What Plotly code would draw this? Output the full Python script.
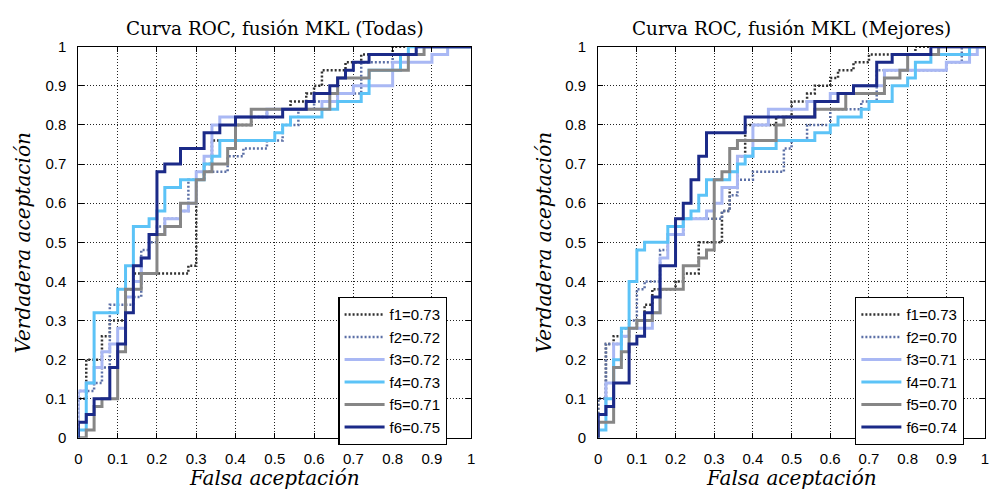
import plotly.graph_objects as go

# ---------------- data (step-curve breakpoints) ----------------
# Left panel: "Todas"
t_f1_x = [0, 0, 0.02, 0.06, 0.08, 0.12, 0.14, 0.28, 0.30, 0.32, 0.34, 0.40, 0.44, 0.48, 0.54, 0.58, 0.60, 0.62, 0.68, 0.72, 0.80, 1]
t_f1_y = [0, 0.10, 0.20, 0.26, 0.30, 0.38, 0.42, 0.44, 0.66, 0.70, 0.76, 0.80, 0.82, 0.84, 0.86, 0.88, 0.90, 0.94, 0.96, 0.98, 1, 1]
t_f2_x = [0, 0, 0.04, 0.06, 0.08, 0.14, 0.16, 0.18, 0.20, 0.22, 0.26, 0.28, 0.32, 0.38, 0.42, 0.48, 0.52, 0.56, 0.60, 0.66, 0.72, 0.80, 0.86, 1]
t_f2_y = [0, 0.12, 0.14, 0.18, 0.34, 0.36, 0.48, 0.50, 0.54, 0.56, 0.58, 0.66, 0.68, 0.72, 0.74, 0.76, 0.80, 0.84, 0.86, 0.88, 0.96, 0.98, 1, 1]
t_f3_x = [0, 0, 0.02, 0.04, 0.06, 0.08, 0.10, 0.12, 0.14, 0.16, 0.18, 0.22, 0.26, 0.28, 0.30, 0.32, 0.34, 0.36, 0.48, 0.62, 0.66, 0.70, 0.80, 0.90, 0.94, 1]
t_f3_y = [0, 0.12, 0.14, 0.18, 0.22, 0.24, 0.28, 0.36, 0.40, 0.46, 0.52, 0.56, 0.58, 0.60, 0.68, 0.72, 0.80, 0.82, 0.84, 0.86, 0.88, 0.90, 0.96, 0.98, 1, 1]
t_f4_x = [0, 0, 0.02, 0.04, 0.10, 0.12, 0.14, 0.18, 0.20, 0.22, 0.26, 0.32, 0.34, 0.36, 0.50, 0.52, 0.54, 0.62, 0.66, 0.72, 0.74, 0.82, 0.84, 1]
t_f4_y = [0, 0.02, 0.14, 0.32, 0.38, 0.44, 0.54, 0.56, 0.58, 0.64, 0.66, 0.70, 0.72, 0.76, 0.78, 0.80, 0.82, 0.84, 0.86, 0.88, 0.94, 0.98, 1, 1]
t_f5_x = [0, 0.02, 0.04, 0.06, 0.10, 0.12, 0.16, 0.20, 0.22, 0.26, 0.30, 0.32, 0.34, 0.38, 0.40, 0.44, 0.64, 0.66, 0.74, 0.84, 0.88, 1]
t_f5_y = [0, 0.02, 0.08, 0.10, 0.22, 0.38, 0.42, 0.52, 0.54, 0.60, 0.66, 0.68, 0.70, 0.74, 0.80, 0.84, 0.88, 0.92, 0.94, 0.98, 1, 1]
t_f6_x = [0, 0, 0.02, 0.04, 0.08, 0.10, 0.12, 0.14, 0.16, 0.18, 0.20, 0.22, 0.26, 0.32, 0.36, 0.40, 0.52, 0.58, 0.60, 0.64, 0.66, 0.68, 0.70, 0.74, 0.86, 1]
t_f6_y = [0, 0.04, 0.06, 0.10, 0.18, 0.24, 0.32, 0.44, 0.46, 0.52, 0.68, 0.70, 0.74, 0.78, 0.80, 0.82, 0.84, 0.86, 0.88, 0.90, 0.92, 0.94, 0.96, 0.98, 1, 1]

# Right panel: "Mejores"
m_f1_x = [0, 0, 0.02, 0.04, 0.06, 0.10, 0.12, 0.14, 0.20, 0.22, 0.26, 0.32, 0.34, 0.36, 0.38, 0.46, 0.50, 0.54, 0.56, 0.60, 0.62, 0.66, 0.70, 0.82, 1]
m_f1_y = [0, 0.10, 0.24, 0.26, 0.28, 0.30, 0.34, 0.38, 0.40, 0.42, 0.50, 0.58, 0.64, 0.72, 0.80, 0.82, 0.86, 0.88, 0.90, 0.92, 0.94, 0.96, 0.98, 1, 1]
m_f2_x = [0, 0, 0.02, 0.06, 0.08, 0.10, 0.12, 0.16, 0.18, 0.22, 0.32, 0.34, 0.36, 0.40, 0.48, 0.50, 0.54, 0.60, 0.68, 0.72, 0.90, 0.94, 1]
m_f2_y = [0, 0.10, 0.24, 0.26, 0.30, 0.38, 0.40, 0.48, 0.52, 0.56, 0.58, 0.62, 0.66, 0.68, 0.74, 0.76, 0.80, 0.84, 0.86, 0.94, 0.96, 1, 1]
m_f3_x = [0, 0, 0.02, 0.04, 0.06, 0.08, 0.14, 0.16, 0.18, 0.22, 0.28, 0.30, 0.32, 0.36, 0.40, 0.44, 0.54, 0.60, 0.66, 0.74, 0.90, 0.96, 0.98, 1]
m_f3_y = [0, 0.06, 0.14, 0.24, 0.26, 0.28, 0.32, 0.46, 0.52, 0.56, 0.58, 0.60, 0.64, 0.72, 0.80, 0.84, 0.86, 0.88, 0.90, 0.94, 0.96, 0.98, 1, 1]
m_f4_x = [0, 0, 0.02, 0.04, 0.06, 0.08, 0.10, 0.12, 0.18, 0.22, 0.24, 0.26, 0.28, 0.34, 0.36, 0.38, 0.40, 0.46, 0.56, 0.60, 0.62, 0.68, 0.70, 0.76, 0.80, 0.82, 0.86, 0.96, 1]
m_f4_y = [0, 0.02, 0.10, 0.20, 0.28, 0.40, 0.48, 0.50, 0.54, 0.56, 0.58, 0.62, 0.66, 0.68, 0.70, 0.72, 0.74, 0.76, 0.78, 0.80, 0.82, 0.84, 0.86, 0.90, 0.92, 0.96, 0.98, 1, 1]
m_f5_x = [0, 0, 0.04, 0.06, 0.08, 0.10, 0.14, 0.16, 0.22, 0.26, 0.28, 0.30, 0.32, 0.34, 0.36, 0.46, 0.48, 0.56, 0.64, 0.74, 0.78, 0.80, 0.88, 1]
m_f5_y = [0, 0.04, 0.18, 0.22, 0.28, 0.30, 0.32, 0.38, 0.44, 0.46, 0.48, 0.66, 0.68, 0.74, 0.76, 0.80, 0.82, 0.84, 0.88, 0.92, 0.94, 0.98, 1, 1]
m_f6_x = [0, 0, 0.02, 0.04, 0.08, 0.10, 0.12, 0.14, 0.16, 0.20, 0.22, 0.24, 0.26, 0.28, 0.38, 0.56, 0.62, 0.66, 0.72, 0.76, 0.86, 1]
m_f6_y = [0, 0.06, 0.08, 0.14, 0.24, 0.26, 0.32, 0.36, 0.44, 0.56, 0.60, 0.66, 0.72, 0.78, 0.82, 0.86, 0.88, 0.90, 0.96, 0.98, 1, 1]

names_todas = ["f1=0.73", "f2=0.72", "f3=0.72", "f4=0.73", "f5=0.71", "f6=0.75"]
names_mejores = ["f1=0.73", "f2=0.70", "f3=0.71", "f4=0.71", "f5=0.70", "f6=0.74"]
tick_vals = [0, 0.1, 0.2, 0.3, 0.4, 0.5, 0.6, 0.7, 0.8, 0.9, 1]
tick_text = ["0", "0.1", "0.2", "0.3", "0.4", "0.5", "0.6", "0.7", "0.8", "0.9", "1"]
titles = ["Curva ROC, fusión MKL (Todas)", "Curva ROC, fusión MKL (Mejores)"]
xlabel = "Falsa aceptación"
ylabel = "Verdadera aceptación"

# ---------------- styles ----------------
colors = ["#303030", "#5b6fa6", "#a9b8f4", "#5cc3f7", "#868686", "#1b2a88"]
dashes = ["2px,2px", "2px,2px", "solid", "solid", "solid", "solid"]
widths = [2.5, 2.5, 3, 3, 3, 3]

todas = [(t_f1_x, t_f1_y), (t_f2_x, t_f2_y), (t_f3_x, t_f3_y),
         (t_f4_x, t_f4_y), (t_f5_x, t_f5_y), (t_f6_x, t_f6_y)]
mejores = [(m_f1_x, m_f1_y), (m_f2_x, m_f2_y), (m_f3_x, m_f3_y),
           (m_f4_x, m_f4_y), (m_f5_x, m_f5_y), (m_f6_x, m_f6_y)]

W, H = 992, 499
fig = go.Figure()

for i, (xs, ys) in enumerate(todas):
    fig.add_trace(go.Scatter(x=xs, y=ys, mode="lines", name=names_todas[i],
                             line=dict(color=colors[i], width=widths[i], dash=dashes[i], shape="hv"),
                             xaxis="x", yaxis="y", legend="legend"))
for i, (xs, ys) in enumerate(mejores):
    fig.add_trace(go.Scatter(x=xs, y=ys, mode="lines", name=names_mejores[i],
                             line=dict(color=colors[i], width=widths[i], dash=dashes[i], shape="hv"),
                             xaxis="x2", yaxis="y2", legend="legend2"))

# plot areas in pixels
L1, R1 = 75, 471
L2, R2 = 599, 989
TOP, BOT = 39, 444

def px(v):
    return v / W

def py(v):
    return (H - v) / H

tickfont = dict(family="Liberation Sans, Arial, sans-serif", size=15, color="black")
axis_common = dict(range=[0, 1], tickvals=tick_vals, ticktext=tick_text,
                   showline=True, linecolor="black", linewidth=1.3, mirror="ticks",
                   ticks="inside", ticklen=5, tickcolor="black", tickwidth=1,
                   showgrid=True, gridcolor="#222222", gridwidth=1, griddash="1px,2px",
                   zeroline=False, tickfont=tickfont, fixedrange=True)

legend_common = dict(bgcolor="white", bordercolor="black", borderwidth=1.3,
                     font=dict(family="Liberation Sans, Arial, sans-serif", size=15, color="black"),
                     xanchor="left", yanchor="top", itemwidth=40, tracegroupgap=0)

fig.update_layout(
    width=W, height=H, margin=dict(l=0, r=0, t=0, b=0),
    paper_bgcolor="white", plot_bgcolor="white", showlegend=True,
    xaxis=dict(domain=[px(L1), px(R1)], anchor="y", ticklabelstandoff=7, **axis_common),
    yaxis=dict(domain=[py(BOT), py(TOP)], anchor="x", ticklabelstandoff=8, **axis_common),
    xaxis2=dict(domain=[px(L2), px(R2)], anchor="y2", ticklabelstandoff=7, **axis_common),
    yaxis2=dict(domain=[py(BOT), py(TOP)], anchor="x2", ticklabelstandoff=8, **axis_common),
    legend=dict(x=px(337), y=py(298), **legend_common),
    legend2=dict(x=px(858), y=py(298), **legend_common),
)

title_font = dict(family="DejaVu Serif, serif", size=18.4, color="black")
label_font = dict(family="DejaVu Serif, serif", size=20, color="black", style="italic")
annotations = []
for (l, r), t in zip([(L1, R1), (L2, R2)], titles):
    annotations.append(dict(text=t, x=px((l + r) / 2), y=py(20), xref="paper", yref="paper",
                            showarrow=False, font=title_font, xanchor="center", yanchor="middle"))
    annotations.append(dict(text=xlabel, x=px((l + r) / 2), y=py(486), xref="paper", yref="paper",
                            showarrow=False, font=label_font, xanchor="center", yanchor="middle"))
annotations.append(dict(text=ylabel, x=px(19), y=py(242), xref="paper", yref="paper", textangle=-90,
                        showarrow=False, font=label_font, xanchor="center", yanchor="middle"))
annotations.append(dict(text=ylabel, x=px(544), y=py(242), xref="paper", yref="paper", textangle=-90,
                        showarrow=False, font=label_font, xanchor="center", yanchor="middle"))
fig.update_layout(annotations=annotations)

fig.write_html("out.html")
